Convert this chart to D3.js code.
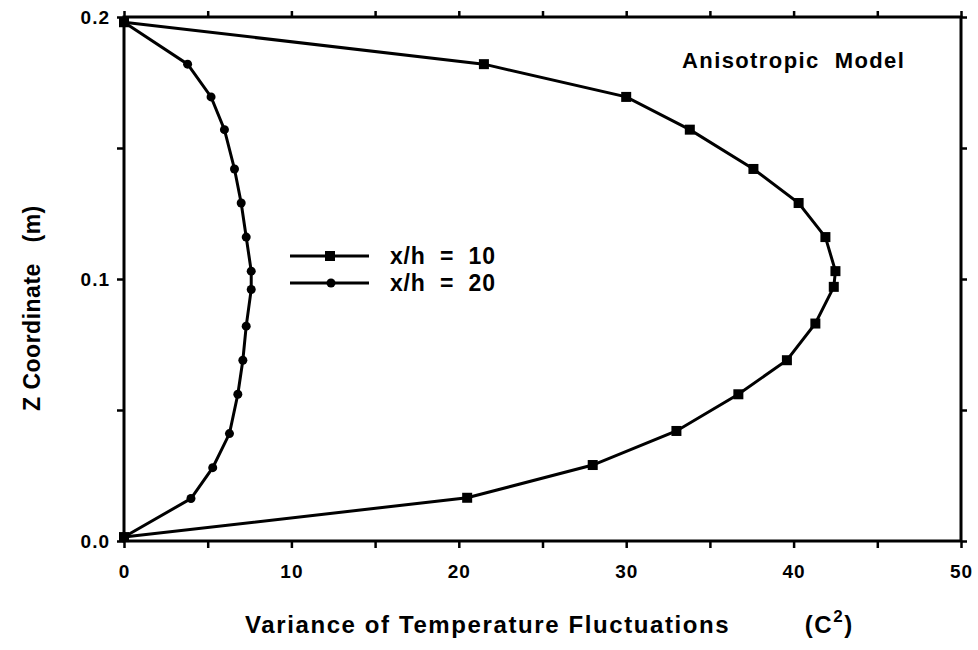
<!DOCTYPE html>
<html>
<head>
<meta charset="utf-8">
<script src="https://cdn.jsdelivr.net/npm/d3@7"></script>
<style>
  body { margin: 0; background: #fff; }
  svg { font-family: "Liberation Sans", Arial, sans-serif; font-weight: bold; }
</style>
</head>
<body>
<div id="chart"></div>
<script>
// z positions (m) and variance values
const zSquares = [0.198, 0.182, 0.1695, 0.157, 0.142, 0.129, 0.116, 0.103, 0.097, 0.083, 0.069, 0.056, 0.042, 0.029, 0.0165, 0.0015];
const varXh10 = [0, 21.5, 30.0, 33.8, 37.6, 40.3, 41.9, 42.5, 42.4, 41.3, 39.6, 36.7, 33.0, 28.0, 20.5, 0];
const zCircles = [0.198, 0.182, 0.1695, 0.157, 0.142, 0.129, 0.116, 0.103, 0.096, 0.082, 0.069, 0.056, 0.041, 0.028, 0.0162, 0.0015];
const varXh20 = [0, 3.8, 5.2, 6.0, 6.6, 7.0, 7.3, 7.6, 7.6, 7.3, 7.1, 6.8, 6.3, 5.3, 4.0, 0];
const xTicks = [0, 5, 10, 15, 20, 25, 30, 35, 40, 45, 50];
const yTicks = [0, 0.05, 0.1, 0.15, 0.2];
const seriesNames = ['x/h\u00a0 =\u00a0 10', 'x/h\u00a0 =\u00a0 20'];

const width = 978, height = 650;
const plotLeft = 124, plotRight = 961, plotTop = 17, plotBottom = 541;

const x = d3.scaleLinear().domain([0, 50]).range([plotLeft, plotRight]);
const y = d3.scaleLinear().domain([0, 0.2]).range([plotBottom, plotTop]);

const svg = d3.select('#chart').append('svg')
  .attr('width', width).attr('height', height);

// frame
svg.append('rect')
  .attr('x', plotLeft).attr('y', plotTop)
  .attr('width', plotRight - plotLeft).attr('height', plotBottom - plotTop)
  .attr('fill', 'none').attr('stroke', '#000').attr('stroke-width', 3);

const styleAxis = g => {
  g.select('.domain').remove();
  g.selectAll('.tick line').attr('stroke', '#000').attr('stroke-width', 2.5);
  g.selectAll('.tick text').attr('fill', '#000')
    .style('font-size', '19px').style('font-weight', 'bold')
    .style('font-family', '"Liberation Sans", Arial, sans-serif')
    .style('letter-spacing', '1px');
};

svg.append('g').attr('transform', `translate(0,${plotBottom})`)
  .call(d3.axisBottom(x).tickValues(xTicks).tickSize(7).tickPadding(17)
    .tickFormat(d => d % 10 === 0 ? d : ''))
  .call(styleAxis);
svg.append('g').attr('transform', `translate(0,${plotTop})`)
  .call(d3.axisTop(x).tickValues(xTicks).tickSize(6).tickFormat(''))
  .call(styleAxis);
svg.append('g').attr('transform', `translate(${plotLeft},0)`)
  .call(d3.axisLeft(y).tickValues(yTicks).tickSize(7).tickPadding(7)
    .tickFormat(d => Math.round(d * 100) % 10 === 0 ? d3.format('.1f')(d) : ''))
  .call(styleAxis);
svg.append('g').attr('transform', `translate(${plotRight},0)`)
  .call(d3.axisRight(y).tickValues(yTicks).tickSize(6).tickFormat(''))
  .call(styleAxis);

const line = d3.line().x(d => x(d[0])).y(d => y(d[1]));
const sq = d3.zip(varXh10, zSquares);
const ci = d3.zip(varXh20, zCircles);

[sq, ci].forEach(s => {
  svg.append('path').datum(s).attr('d', line)
    .attr('fill', 'none').attr('stroke', '#000').attr('stroke-width', 3);
});

svg.selectAll('.sq').data(sq).enter().append('rect')
  .attr('x', d => x(d[0]) - 5).attr('y', d => y(d[1]) - 5)
  .attr('width', 10).attr('height', 10).attr('fill', '#000');
svg.selectAll('.ci').data(ci).enter().append('circle')
  .attr('cx', d => x(d[0])).attr('cy', d => y(d[1])).attr('r', 4.5).attr('fill', '#000');

// legend
const legend = svg.append('g');
seriesNames.forEach((name, i) => {
  const ly = 256 + i * 27;
  legend.append('line').attr('x1', 290).attr('x2', 369).attr('y1', ly).attr('y2', ly)
    .attr('stroke', '#000').attr('stroke-width', 3);
  if (i === 0) {
    legend.append('rect').attr('x', 325).attr('y', ly - 5).attr('width', 10).attr('height', 10).attr('fill', '#000');
  } else {
    legend.append('circle').attr('cx', 331).attr('cy', ly).attr('r', 4.5).attr('fill', '#000');
  }
  legend.append('text').attr('x', 390).attr('y', ly + 8).attr('font-size', 23)
    .style('letter-spacing', '0.8px').text(name);
});

svg.append('text').attr('x', 682).attr('y', 68).attr('font-size', 22)
  .style('letter-spacing', '1.4px').text('Anisotropic\u00a0 Model');

// axis titles
const xt = svg.append('text').attr('x', 245).attr('y', 633).attr('font-size', 24)
  .style('letter-spacing', '1.6px');
xt.append('tspan').text('Variance of Temperature Fluctuations\u00a0\u00a0\u00a0\u00a0\u00a0\u00a0\u00a0\u00a0 (C');
xt.append('tspan').attr('dy', -11).attr('font-size', 17).text('2');
xt.append('tspan').attr('dy', 11).text(')');

svg.append('text')
  .attr('transform', 'translate(40,411) rotate(-90)')
  .attr('font-size', 23).style('letter-spacing', '0.5px')
  .text('Z Coordinate\u00a0\u00a0 (m)');
</script>
</body>
</html>
